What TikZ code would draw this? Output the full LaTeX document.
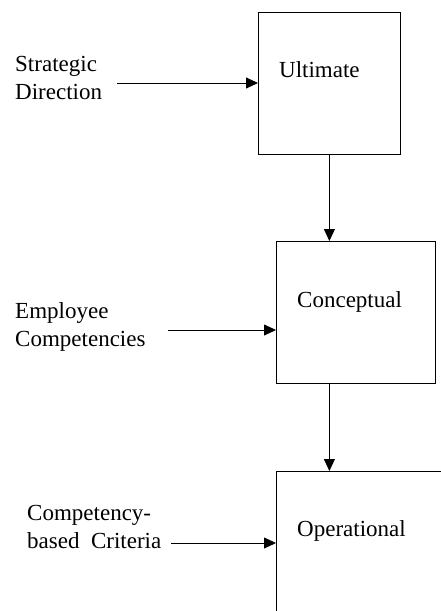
\documentclass[tikz,border=0pt]{standalone}
\usepackage{fontspec}
\setmainfont{Liberation Serif}
\usetikzlibrary{arrows.meta,calc,positioning}
\tikzset{
  stage/.style={draw, line width=0.8pt, inner sep=0pt, anchor=north west},
  stagename/.style={anchor=base west, inner sep=0pt, font=\fontsize{23}{28}\selectfont},
  source/.style={anchor=base west, inner sep=0pt, align=left, font=\fontsize{23}{28}\selectfont},
  feed/.style={line width=0.8pt, -{Triangle[length=12pt,width=11pt]}}
}

\begin{document}
\begin{tikzpicture}[x=1pt,y=-1pt]
\useasboundingbox (0,0) rectangle (441,611);
\clip (0,0) rectangle (441,611);
% stages
\node[stage, minimum width=142pt, minimum height=142pt] (u) at (258,12) {};
\node[stage, minimum width=159pt, minimum height=142pt] (c) at (276,241) {};
\node[stage, minimum width=190pt, minimum height=170pt] (o) at (276,471) {};
\node[stagename] (ut) at ($(u.north west)+(21,65)$) {Ultimate};
\node[stagename] (ct) at ($(c.north west)+(21,66)$) {Conceptual};
\node[stagename] (ot) at ($(o.north west)+(21,65)$) {Operational};
% inputs
\node[source] (sd) at (15,99) {Strategic\\Direction};
\node[source] (ec) at (15,346) {Employee\\Competencies};
\node[source] (cc) at (27,548) {Competency-\\based\ \ Criteria};
\coordinate (sd-out) at (117,83);
\coordinate (ec-out) at (168,330);
\coordinate (cc-out) at (171,543);
\draw[feed] (sd-out) -- (sd-out -| u.west);
\draw[feed] (ec-out) -- (ec-out -| c.west);
\draw[feed] (cc-out) -- (cc-out -| o.west);
% flow down
\draw[feed] (u.south) -- (u.south |- c.north);
\draw[feed] (u.south |- c.south) -- (u.south |- o.north);
\end{tikzpicture}
\end{document}
